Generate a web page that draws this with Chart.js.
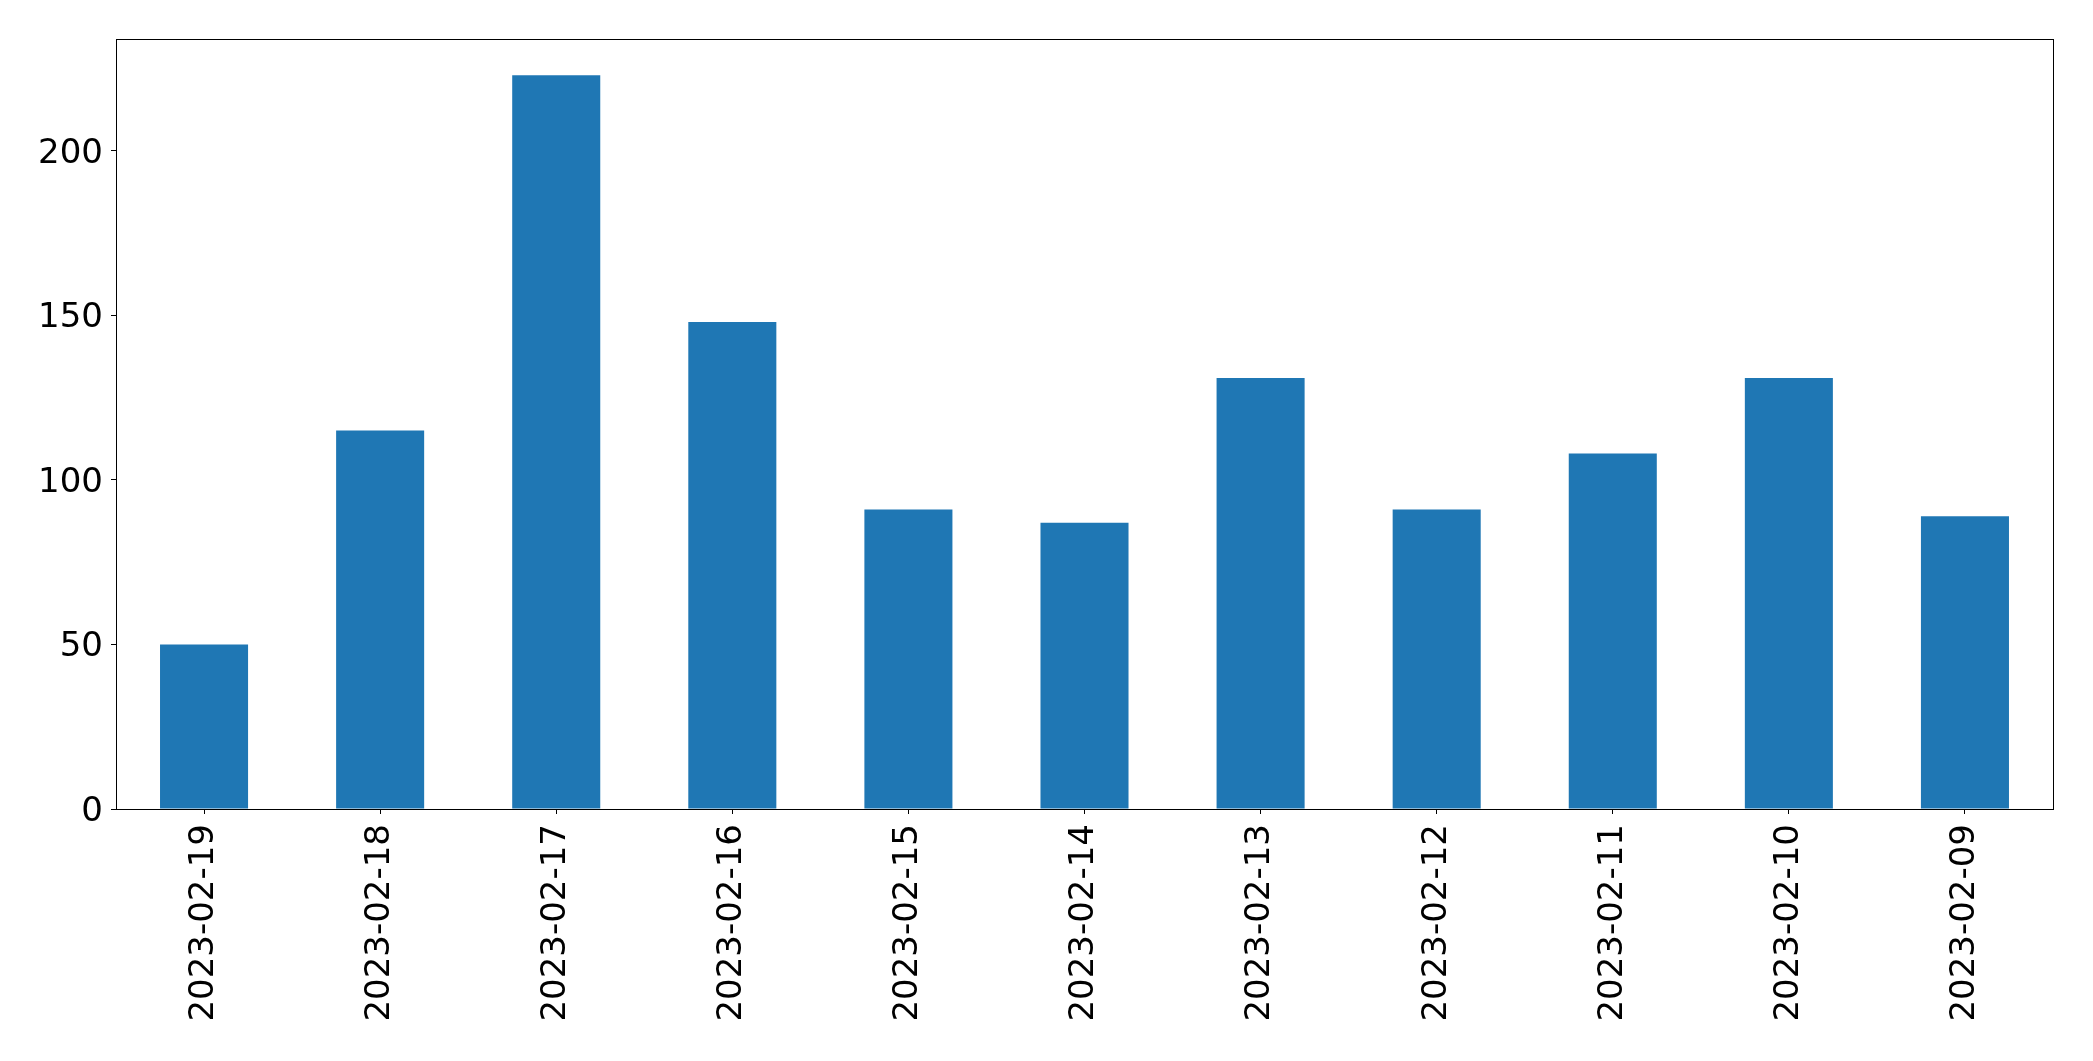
<!DOCTYPE html>
<html>
<head>
<meta charset="utf-8">
<script src="https://cdn.jsdelivr.net/npm/chart.js@4/dist/chart.umd.min.js"></script>
<style>
  html, body { margin: 0; padding: 0; background: #ffffff; }
  #wrap { width: 2093px; height: 1061px; }
</style>
</head>
<body>
<div id="wrap"><canvas id="chart" width="2093" height="1061"></canvas></div>
<script>
// dates as shown on the x axis, left to right
const days = [
  "2023-02-19", "2023-02-18", "2023-02-17", "2023-02-16", "2023-02-15", "2023-02-14",
  "2023-02-13", "2023-02-12", "2023-02-11", "2023-02-10", "2023-02-09",
];

// count per day
const counts = [50, 115, 223, 148, 91, 87, 131, 91, 108, 131, 89];

const barColor = "#1f77b4";
const tickFont = { family: "DejaVu Sans", size: 34 };

//draws the top and right sides of the axes box
const frameBox = {
  id: "frameBox",
  afterDraw(chart) {
    const { ctx, chartArea: a } = chart;
    ctx.save();
    ctx.strokeStyle = "#000000";
    ctx.lineWidth = 1;
    ctx.strokeRect(a.left + 0.5, a.top + 0.5, a.right - a.left, a.bottom - a.top);
    ctx.restore();
  },
};

new Chart(document.getElementById("chart"), {
  type: "bar",
  plugins: [frameBox],
  data: {
    labels: days,
    datasets: [
      {
        data: counts,
        backgroundColor: barColor,
        barPercentage: 0.5,
        categoryPercentage: 1.0,
      },
    ],
  },
  options: {
    responsive: false,
    animation: false,
    layout: { padding: { top: 39, right: 40, left: 0, bottom: 0 } },
    plugins: {
      legend: { display: false },
      tooltip: { enabled: false },
    },
    scales: {
      x: {
        offset: true,
        grid: { display: true, offset: false, drawOnChartArea: false, tickLength: 5, tickColor: "#000000" },
        border: { color: "#000000", width: 1 },
        ticks: {
          color: "#000000",
          font: tickFont,
          minRotation: 90,
          maxRotation: 90,
          padding: 10,
          autoSkip: false,
        },
        afterFit(scale) {
          scale.height = 252;
        },
      },
      y: {
        min: 0,
        max: 234,
        grid: { display: true, drawOnChartArea: false, tickLength: 5, tickColor: "#000000" },
        border: { color: "#000000", width: 1 },
        ticks: {
          stepSize: 50,
          includeBounds: false,
          color: "#000000",
          font: tickFont,
          padding: 8,
          labelOffset: 3,
        },
        afterFit(scale) {
          scale.width = 116;
        },
      },
    },
  },
});
</script>
</body>
</html>
